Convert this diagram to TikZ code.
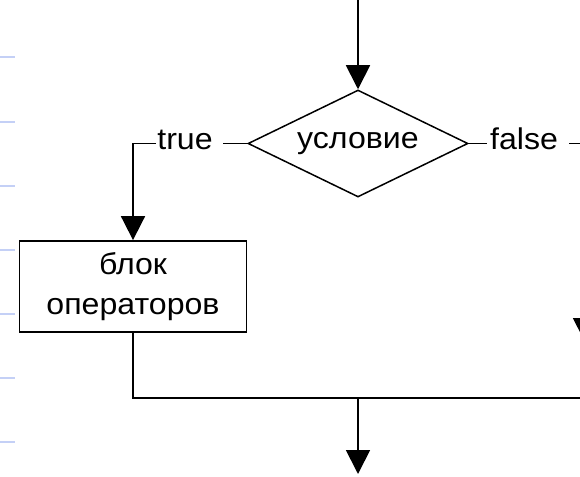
\documentclass[tikz,border=0pt]{standalone}
\usepackage{fontspec}
\setmainfont[FakeStretch=1.07]{Liberation Sans}
\usetikzlibrary{arrows.meta,shapes.geometric,calc}
\definecolor{tickblue}{RGB}{196,208,246}
\begin{document}
\begin{tikzpicture}[x=1pt,y=-1pt,
  every node/.style={font=\fontsize{30}{40}\selectfont},
  conn/.style={line width=1.8pt, draw=black},
  arr/.style={conn, -{Triangle[length=24pt,width=24pt]}},
  cond/.style={draw=black, line width=1.5pt, shape=diamond, aspect=2.06,
    minimum width=220pt, minimum height=107pt, inner sep=0pt},
  opbox/.style={draw=black, line width=1.8pt, minimum width=227pt,
    minimum height=91pt, align=center, inner sep=0pt},
  lbl/.style={inner xsep=0pt, inner ysep=0pt, anchor=base},
  tick/.style={draw=tickblue, line width=2pt}]
\useasboundingbox[clip] (0,0) rectangle (580,476);
\fill[white] (0,0) rectangle (580,476);
% left margin ticks
\foreach \yy in {57,122,186,250,314,378,442}
  \draw[tick] (0,\yy) -- (15,\yy);
% nodes
\node[cond] (d) at (358,143.5) {\raisebox{-1pt}{условие}};
\node[opbox] (b) at (133,286.5) {блок\\операторов};
\node[lbl] (t) at (185,149) {true};
\node[lbl] (f) at (524,149) {false};
\coordinate (start) at (358,-5);
\coordinate (rt) at (585,342);
\coordinate (m) at (358,398);
\coordinate (rr) at (600,398);
\coordinate (end) at (358,474);
% connectors
\draw[arr] (start) -- (d.north);
\draw[conn] (d.west) -- ([xshift=10pt]t.east |- d.west);
\draw[arr] ([xshift=-1pt]t.west |- d.west) -| (b.north);
\draw[conn] (d.east) -- ([xshift=-3pt]f.west |- d.east);
\draw[arr] ([xshift=11pt]f.east |- d.east) -| (rt);
\draw[conn] (b.south) |- (rr);
\draw[arr] (m) -- (end);
\end{tikzpicture}
\end{document}
